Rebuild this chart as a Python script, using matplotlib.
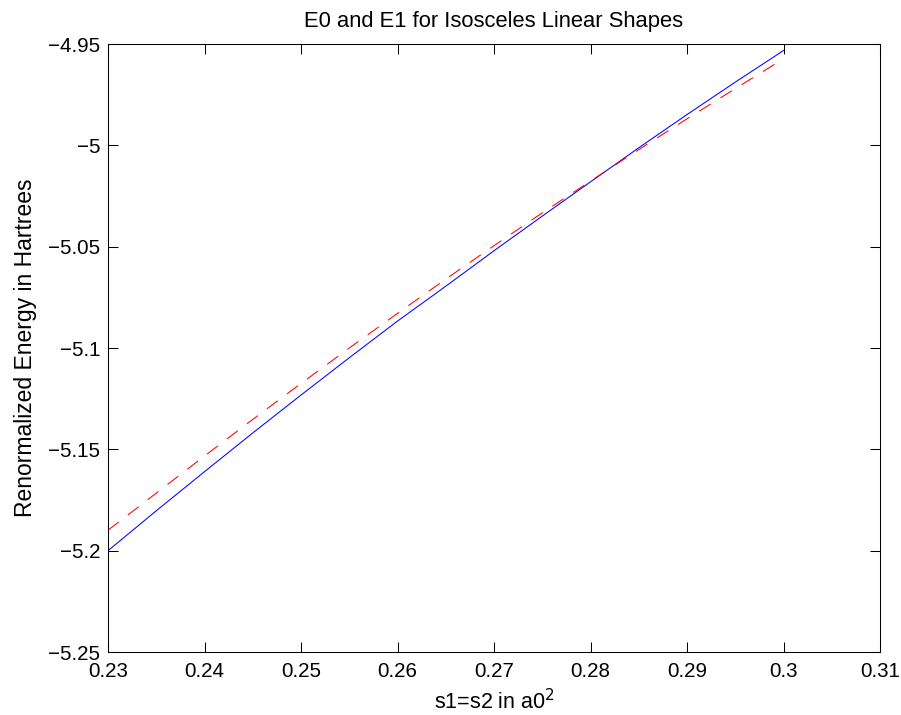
import numpy as np
import matplotlib
matplotlib.use("Agg")
import matplotlib.pyplot as plt

plt.rcParams['font.family'] = ['Liberation Sans', 'DejaVu Sans']

# s1 = s2 values (a0^2)
s = [0.230, 0.235, 0.240, 0.245, 0.250, 0.255, 0.260, 0.265,
     0.270, 0.275, 0.280, 0.285, 0.290, 0.295, 0.300]
# E0 (solid blue) and E1 (dashed red)
e0 = [-5.2000, -5.1803, -5.1610, -5.1419, -5.1232, -5.1048, -5.0867, -5.0695,
      -5.0520, -5.0349, -5.0180, -5.0012, -4.9848, -4.9688, -4.9532]
e1 = [-5.1899, -5.1716, -5.1533, -5.1352, -5.1175, -5.1000, -5.0829, -5.0660,
      -5.0495, -5.0333, -5.0176, -5.0021, -4.9869, -4.9720, -4.9573]

xticks = [0.23, 0.24, 0.25, 0.26, 0.27, 0.28, 0.29, 0.3, 0.31]
yticks = [-5.25, -5.2, -5.15, -5.1, -5.05, -5, -4.95]

fig = plt.figure(figsize=(9.01, 7.15), dpi=100)
ax = fig.add_axes([0.1199, 0.0881, 0.8568, 0.8503])

ax.plot(s, e0, color=(0, 0, 1), lw=0.75)
ax.plot(s, e1, color=(1, 0, 0), lw=0.75, linestyle=(0, (13, 11)))

ax.set_xlim(0.23, 0.31)
ax.set_ylim(-5.25, -4.95)
ax.set_xticks(xticks)
ax.set_xticklabels([f"{v:g}" for v in xticks])
ax.set_yticks(yticks)
ax.set_yticklabels([f"{v:g}".replace('-', '\u2212') for v in yticks])

ax.tick_params(direction='in', length=7, width=0.75, labelsize=14.8,
               top=True, right=True)
ax.tick_params(axis='x', pad=7.5)
ax.tick_params(axis='y', pad=5.5)
for sp in ax.spines.values():
    sp.set_linewidth(0.75)

ax.set_title("E0 and E1 for Isosceles Linear Shapes", fontsize=15.8, pad=12)
ax.set_xlabel("s1=s2 in a0$^2$", fontsize=15.5, va='baseline')
ax.xaxis.set_label_coords(0.5, -0.0946)
ax.set_ylabel("Renormalized Energy in Hartrees", fontsize=16.5)
ax.yaxis.set_label_coords(-0.0915, 0.5)

fig.savefig("out.png", dpi=100)
